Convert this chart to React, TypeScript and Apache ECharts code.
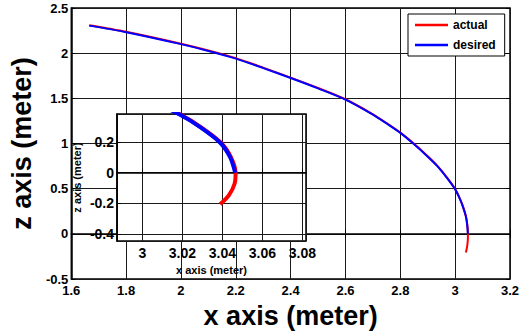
import React, { useEffect, useRef } from "react";
import * as echarts from "echarts";

// Trajectory (x in meter, z in meter)
const desiredX = [1.665, 1.8, 2.0, 2.1, 2.2, 2.3, 2.4, 2.5, 2.6, 2.7, 2.75, 2.8, 2.847, 2.9, 2.935, 2.97, 3.0, 3.0184, 3.0289, 3.0389, 3.0439, 3.0464];
const desiredZ = [2.305, 2.232, 2.1, 2.025, 1.94, 1.835, 1.725, 1.61, 1.486, 1.32, 1.222, 1.118, 1.0, 0.855, 0.75, 0.62, 0.493, 0.38, 0.297, 0.195, 0.1, 0.0];

const actualX = [1.666, 1.8, 2.0, 2.1, 2.2, 2.3, 2.4, 2.5, 2.6, 2.7, 2.75, 2.8, 2.848, 2.901, 2.936, 2.971, 3.0005, 3.0187, 3.0292, 3.0393, 3.0443, 3.0466, 3.0461, 3.0432, 3.0389];
const actualZ = [2.31, 2.237, 2.105, 2.03, 1.945, 1.84, 1.73, 1.615, 1.49, 1.324, 1.226, 1.122, 1.003, 0.857, 0.751, 0.621, 0.494, 0.38, 0.297, 0.195, 0.1, 0.0, -0.072, -0.148, -0.206];

const seriesNames = ["actual", "desired"];
const mainXRange = [1.6, 3.2];
const mainZRange = [-0.5, 2.5];
const insetXRange = [2.9873, 3.0818];
const insetZRange = [-0.445, 0.382];
const axisTitleX = "x axis (meter)";
const axisTitleZ = "z axis (meter)";

const FONT = '"Liberation Sans", Arial, Helvetica, sans-serif';
const RED = "#ff0000";
const BLUE = "#0000ff";

const pairs = (xs: number[], zs: number[]) => xs.map((x, i) => [x, zs[i]]);

export default function App() {
  const ref = useRef<HTMLDivElement>(null);
  useEffect(() => {
    if (!ref.current) return;
    const chart = echarts.init(ref.current, null, { renderer: "svg" });
    const labelStyle = { fontSize: 13, fontWeight: "bold", color: "#000", fontFamily: FONT };
    const grid0Line = { show: true, lineStyle: { color: "#000", width: 1.5 } };
    const tick = { show: true, inside: true, length: 4, lineStyle: { color: "#000", width: 1 } };
    const split = { show: true, lineStyle: { color: "#1a1a1a", width: 1 } };
    const option: any = {
      animation: false,
      backgroundColor: "#fff",
      textStyle: { fontFamily: FONT },
      grid: [
        { left: 67, top: 8, right: 14, bottom: 54, show: true, borderColor: "#000", borderWidth: 1.5, backgroundColor: "transparent" },
        { left: 117, top: 114, width: 189, height: 127, show: true, backgroundColor: "#fff", borderColor: "#000", borderWidth: 1.5, z: 5 },
      ],
      legend: {
        data: seriesNames,
        orient: "vertical",
        left: 408,
        top: 14,
        padding: [4, 9, 4, 7],
        itemGap: 6,
        icon: "rect",
        itemWidth: 33,
        itemHeight: 2.5,
        backgroundColor: "#fff",
        borderColor: "#000",
        borderWidth: 1,
        z: 10,
        textStyle: { fontSize: 12, fontWeight: "bold", color: "#000", fontFamily: FONT, lineHeight: 14 },
      },
      xAxis: [
        {
          gridIndex: 0, type: "value", position: "bottom",
          min: mainXRange[0], max: mainXRange[1], interval: 0.2,
          axisLine: grid0Line, axisTick: tick,
          axisLabel: { ...labelStyle, margin: 5 },
          splitLine: split,
          name: axisTitleX, nameLocation: "middle", nameGap: 18,
          nameTextStyle: { fontSize: 27, fontWeight: "bold", color: "#000", fontFamily: FONT },
        },
        {
          gridIndex: 1, type: "value", position: "bottom",
          min: insetXRange[0], max: insetXRange[1], splitNumber: 5,
          axisLine: grid0Line, axisTick: tick,
          axisLabel: { ...labelStyle, fontSize: 14, margin: 5, showMinLabel: false, showMaxLabel: false },
          splitLine: split,
          name: axisTitleX, nameLocation: "middle", nameGap: 23,
          nameTextStyle: { fontSize: 11, fontWeight: "bold", color: "#000", fontFamily: FONT },
          z: 6,
        },
        {
          gridIndex: 0, type: "value", position: "top",
          min: mainXRange[0], max: mainXRange[1], interval: 0.2,
          axisLine: { show: false }, axisTick: tick, axisLabel: { show: false }, splitLine: { show: false },
        },
      ],
      yAxis: [
        {
          gridIndex: 0, type: "value", position: "left",
          min: mainZRange[0], max: mainZRange[1], interval: 0.5,
          axisLine: grid0Line, axisTick: tick,
          axisLabel: { ...labelStyle, margin: 3 },
          splitLine: split,
          name: axisTitleZ, nameLocation: "middle", nameGap: 29,
          nameTextStyle: { fontSize: 27, fontWeight: "bold", color: "#000", fontFamily: FONT },
        },
        {
          gridIndex: 1, type: "value", position: "left",
          min: insetZRange[0], max: insetZRange[1], splitNumber: 5,
          axisLine: grid0Line, axisTick: tick,
          axisLabel: { ...labelStyle, fontSize: 14, margin: 3, showMinLabel: false, showMaxLabel: false },
          splitLine: split,
          name: axisTitleZ, nameLocation: "middle", nameGap: 35,
          nameTextStyle: { fontSize: 11, fontWeight: "bold", color: "#000", fontFamily: FONT },
          z: 6,
        },
        {
          gridIndex: 0, type: "value", position: "right",
          min: mainZRange[0], max: mainZRange[1], interval: 0.5,
          axisLine: { show: false }, axisTick: tick, axisLabel: { show: false }, splitLine: { show: false },
        },
      ],
      series: [
        {
          name: seriesNames[0], type: "line", xAxisIndex: 0, yAxisIndex: 0,
          data: pairs(actualX, actualZ), symbol: "none", smooth: 0.3,
          lineStyle: { color: RED, width: 2 }, itemStyle: { color: RED }, z: 2,
        },
        {
          name: seriesNames[1], type: "line", xAxisIndex: 0, yAxisIndex: 0,
          data: pairs(desiredX, desiredZ), symbol: "none", smooth: 0.3,
          lineStyle: { color: BLUE, width: 2 }, itemStyle: { color: BLUE }, z: 3,
        },
        {
          name: seriesNames[0], type: "line", xAxisIndex: 1, yAxisIndex: 1,
          data: pairs(actualX, actualZ), symbol: "none", smooth: 0.3, clip: true,
          lineStyle: { color: RED, width: 4 }, itemStyle: { color: RED }, z: 7,
        },
        {
          name: seriesNames[1], type: "line", xAxisIndex: 1, yAxisIndex: 1,
          data: pairs(desiredX, desiredZ), symbol: "none", smooth: 0.3, clip: true,
          lineStyle: { color: BLUE, width: 4 }, itemStyle: { color: BLUE }, z: 8,
        },
      ],
    };
    chart.setOption(option);
    return () => chart.dispose();
  }, []);
  return (
    <div
      ref={ref}
      style={{ position: "fixed", left: 0, top: 0, width: 524, height: 334, background: "#fff" }}
    />
  );
}
